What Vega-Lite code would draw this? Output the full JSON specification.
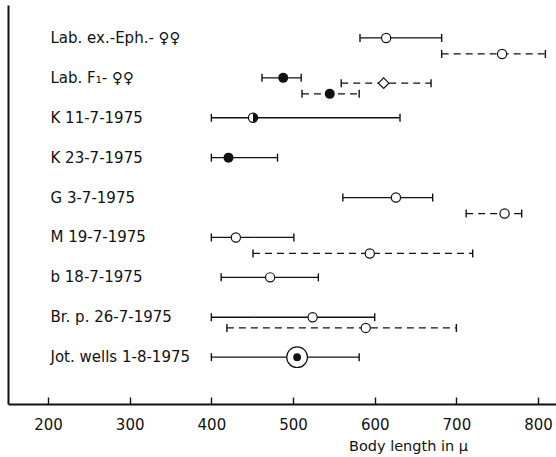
{
  "$schema": "https://vega.github.io/schema/vega-lite/v6.json",
  "width": 548,
  "height": 399,
  "autosize": "none",
  "padding": {"left": 8, "top": 5, "right": 0, "bottom": 53},
  "background": "white",
  "config": {"view": {"stroke": null}, "font": "DejaVu Sans"},
  "resolve": {"axis": {"x": "independent"}},
  "data": {"values": [
    {"group": "Lab. ex.-Eph.- ♀♀", "sub": "a", "lo": 582, "mean": 614, "hi": 682, "dash": "solid", "marker": "open"},
    {"group": "Lab. ex.-Eph.- ♀♀", "sub": "d", "lo": 682, "mean": 756, "hi": 809, "dash": "dashed", "marker": "open"},
    {"group": "Lab. F₁- ♀♀", "sub": "a", "lo": 462, "mean": 488, "hi": 510, "dash": "solid", "marker": "filled"},
    {"group": "Lab. F₁- ♀♀", "sub": "b", "lo": 559, "mean": 611, "hi": 669, "dash": "dashed", "marker": "diamond"},
    {"group": "Lab. F₁- ♀♀", "sub": "d", "lo": 511, "mean": 545, "hi": 581, "dash": "dashed", "marker": "filled"},
    {"group": "K 11-7-1975", "sub": "a", "lo": 400, "mean": 451, "hi": 631, "dash": "solid", "marker": "half"},
    {"group": "K 23-7-1975", "sub": "a", "lo": 400, "mean": 421, "hi": 481, "dash": "solid", "marker": "filled"},
    {"group": "G 3-7-1975", "sub": "a", "lo": 561, "mean": 626, "hi": 671, "dash": "solid", "marker": "open"},
    {"group": "G 3-7-1975", "sub": "d", "lo": 712, "mean": 759, "hi": 780, "dash": "dashed", "marker": "open"},
    {"group": "M 19-7-1975", "sub": "a", "lo": 400, "mean": 430, "hi": 501, "dash": "solid", "marker": "open"},
    {"group": "M 19-7-1975", "sub": "d", "lo": 451, "mean": 594, "hi": 720, "dash": "dashed", "marker": "open"},
    {"group": "b 18-7-1975", "sub": "a", "lo": 412, "mean": 472, "hi": 531, "dash": "solid", "marker": "open"},
    {"group": "Br. p. 26-7-1975", "sub": "a", "lo": 400, "mean": 524, "hi": 600, "dash": "solid", "marker": "open"},
    {"group": "Br. p. 26-7-1975", "sub": "c", "lo": 419, "mean": 589, "hi": 700, "dash": "dashed", "marker": "open"},
    {"group": "Jot. wells 1-8-1975", "sub": "a", "lo": 400, "mean": 505, "hi": 581, "dash": "solid", "marker": "big"}
  ]},
  "encoding": {
    "y": {
      "field": "group", "type": "nominal",
      "scale": {"type": "band", "paddingInner": 0, "paddingOuter": 0.5,
        "domain": ["Lab. ex.-Eph.- ♀♀", "Lab. F₁- ♀♀", "K 11-7-1975", "K 23-7-1975", "G 3-7-1975", "M 19-7-1975", "b 18-7-1975", "Br. p. 26-7-1975", "Jot. wells 1-8-1975"]},
      "axis": {"title": null, "ticks": false, "labelAlign": "left", "labelPadding": -42, "labelFontSize": 15, "labelColor": "#111", "labelFont": "DejaVu Sans", "domainColor": "#111", "domainWidth": 2, "labelOffset": -7, "labelBaseline": "middle"}
    },
    "yOffset": {"field": "sub", "type": "nominal", "scale": {"type": "point", "domain": ["a", "b", "c", "d"], "range": [13, 29], "padding": 0}}
  },
  "layer": [
    {
      "mark": {"type": "rule", "color": "#111", "strokeWidth": 1.3},
      "encoding": {
        "x": {"field": "lo", "type": "quantitative", "scale": {"domain": [151, 822], "nice": false, "zero": false},
          "axis": {"orient": "bottom", "offset": -7, "domain": false, "title": "Body length in μ", "values": [200, 300, 400, 500, 600, 700, 800], "grid": false, "tickSize": 7, "tickColor": "#111", "tickWidth": 1.4, "labelFontSize": 15, "labelColor": "#111", "labelPadding": 13, "titleFontSize": 14.5, "titleFontWeight": "normal", "titleColor": "#111", "titleX": 400, "titleY": 49, "titleAnchor": null, "titleAlign": "center", "titleBaseline": "middle"}},
        "x2": {"field": "hi"},
        "strokeDash": {"field": "dash", "type": "nominal", "scale": {"domain": ["solid", "dashed"], "range": [[1, 0], [7, 5]]}, "legend": null}
      }
    },
    {
      "mark": {"type": "point", "shape": "M0,-1L0,1", "filled": false, "stroke": "#111", "strokeWidth": 1.4, "size": 64, "opacity": 1},
      "encoding": {"x": {"field": "lo", "type": "quantitative",
        "axis": {"orient": "bottom", "offset": 0, "domain": true, "domainColor": "#111", "domainWidth": 2, "ticks": false, "labels": false, "grid": false, "title": null}}}
    },
    {
      "mark": {"type": "point", "shape": "M0,-1L0,1", "filled": false, "stroke": "#111", "strokeWidth": 1.4, "size": 64, "opacity": 1},
      "encoding": {"x": {"field": "hi", "type": "quantitative", "axis": null}}
    },
    {
      "transform": [{"filter": "datum.marker === 'open' || datum.marker === 'half'"}],
      "mark": {"type": "point", "shape": "circle", "filled": true, "fill": "white", "stroke": "#111", "strokeWidth": 1.2, "size": 85, "opacity": 1},
      "encoding": {"x": {"field": "mean", "type": "quantitative", "axis": null}}
    },
    {
      "transform": [{"filter": "datum.marker === 'diamond'"}],
      "mark": {"type": "point", "shape": "diamond", "filled": true, "fill": "white", "stroke": "#111", "strokeWidth": 1.2, "size": 110, "opacity": 1},
      "encoding": {"x": {"field": "mean", "type": "quantitative", "axis": null}}
    },
    {
      "transform": [{"filter": "datum.marker === 'half'"}],
      "mark": {"type": "point", "shape": "M0,-1A1,1 0 0 1 0,1Z", "filled": true, "fill": "#111", "strokeWidth": 0, "size": 85, "opacity": 1},
      "encoding": {"x": {"field": "mean", "type": "quantitative", "axis": null}}
    },
    {
      "transform": [{"filter": "datum.marker === 'filled'"}],
      "mark": {"type": "point", "shape": "circle", "filled": true, "fill": "#111", "size": 100, "opacity": 1},
      "encoding": {"x": {"field": "mean", "type": "quantitative", "axis": null}}
    },
    {
      "transform": [{"filter": "datum.marker === 'big'"}],
      "mark": {"type": "point", "shape": "circle", "filled": true, "fill": "white", "stroke": "#111", "strokeWidth": 1.2, "size": 430, "opacity": 1},
      "encoding": {"x": {"field": "mean", "type": "quantitative", "axis": null}}
    },
    {
      "transform": [{"filter": "datum.marker === 'big'"}],
      "mark": {"type": "point", "shape": "circle", "filled": true, "fill": "#111", "size": 60, "opacity": 1},
      "encoding": {"x": {"field": "mean", "type": "quantitative", "axis": null}}
    }
  ]
}
